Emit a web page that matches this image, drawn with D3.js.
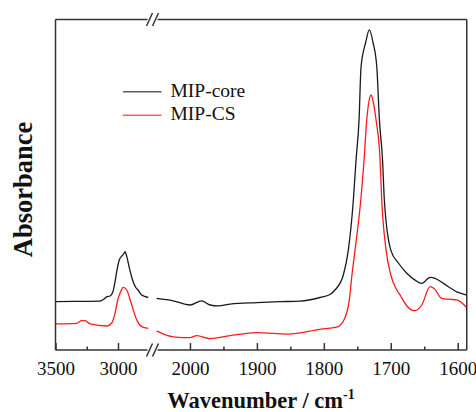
<!DOCTYPE html>
<html>
<head>
<meta charset="utf-8">
<script src="https://cdn.jsdelivr.net/npm/d3@7"></script>
<style>
  body { margin: 0; background: #fff; }
  svg { display: block; }
  svg text { font-family: 'Liberation Serif', 'Times New Roman', Times, serif; }
</style>
</head>
<body>
<div id="chart"></div>
<script>
// spectra, [wavenumber (cm-1), absorbance (a.u.)]
const coreLeft = [
  [3500, 0.161], [3344, 0.162], [3144, 0.163], [3112, 0.170], [3088, 0.178],
  [3064, 0.180], [3040, 0.195], [3026, 0.222], [3010, 0.262], [2990, 0.300],
  [2970, 0.313], [2955, 0.320], [2944, 0.328], [2930, 0.312], [2910, 0.275],
  [2885, 0.235], [2860, 0.210], [2840, 0.200], [2810, 0.183], [2758, 0.175]
];
const coreRight = [
  [2050, 0.172], [2025, 0.164], [2000, 0.150], [1982.5, 0.164], [1970, 0.150],
  [1957.7, 0.147], [1940, 0.153], [1900, 0.158], [1865.5, 0.161], [1835.6, 0.163],
  [1805.7, 0.175], [1790.7, 0.185], [1783.3, 0.200], [1770.9, 0.250], [1763.4, 0.333],
  [1755.9, 0.500], [1751.9, 0.633], [1747.4, 0.767], [1744.4, 0.944], [1737.5, 1.025],
  [1732, 1.067], [1726.5, 1.025], [1720.9, 0.944], [1717, 0.767], [1712.3, 0.633],
  [1709.6, 0.500], [1700, 0.333], [1688.6, 0.290], [1676.1, 0.256], [1663.7, 0.233],
  [1653.7, 0.222], [1641.3, 0.242], [1633.8, 0.239], [1621.4, 0.222], [1601.3, 0.194],
  [1586.5, 0.183]
];
const csLeft = [
  [3500, 0.087], [3330, 0.089], [3290, 0.098], [3264, 0.098], [3224, 0.087],
  [3090, 0.080], [3050, 0.090], [3024, 0.122], [3000, 0.170], [2984, 0.189],
  [2958, 0.209], [2930, 0.200], [2890, 0.150], [2850, 0.100], [2810, 0.078],
  [2758, 0.072]
];
const csRight = [
  [2050, 0.064], [2025, 0.044], [2000, 0.041], [1990, 0.048], [1970, 0.038],
  [1940, 0.048], [1900, 0.058], [1853, 0.053], [1805.7, 0.069], [1780.7, 0.076],
  [1770, 0.100], [1761.9, 0.167], [1758, 0.250], [1753.4, 0.333], [1744.8, 0.500],
  [1739.9, 0.633], [1735.9, 0.767], [1732.5, 0.830], [1729.4, 0.850], [1726.5, 0.830],
  [1722, 0.767], [1716, 0.633], [1713.5, 0.500], [1707, 0.333], [1700, 0.250],
  [1691, 0.200], [1686, 0.183], [1677, 0.150], [1668.6, 0.133], [1663.7, 0.131],
  [1653.7, 0.150], [1641.3, 0.211], [1635.3, 0.205], [1623.8, 0.172], [1611.4, 0.169],
  [1601.3, 0.167], [1586.5, 0.141]
];

const seriesNames = ['MIP-core', 'MIP-CS'];
const seriesColors = ['#1a1a1a', '#ff1a1a'];

const leftMajor = [3500, 3000];
const leftMinor = [3250];
const rightMajor = [2000, 1900, 1800, 1700, 1600];
const rightMinor = [1950, 1850, 1750, 1650];

const width = 476, height = 412;
const plotTop = 19.5, plotBottom = 350;
const plotLeft = 55.5, plotRight = 466.75;

const svg = d3.select('#chart').append('svg')
  .attr('width', width)
  .attr('height', height);

// broken x axis: two linear pieces
const xLeft = d3.scaleLinear().domain([3500, 2760]).range([plotLeft, 148]);
const xRight = d3.scaleLinear().domain([2050, 1586.5]).range([156.5, plotRight]);
const y = d3.scaleLinear().domain([0, 1.1]).range([plotBottom, 20]);

// spectra
const pieces = [
  [coreLeft, xLeft, 0], [coreRight, xRight, 0],
  [csLeft, xLeft, 1], [csRight, xRight, 1]
];
pieces.forEach(function (p) {
  const line = d3.line()
    .x(function (d) { return p[1](d[0]); })
    .y(function (d) { return y(d[1]); })
    .curve(d3.curveMonotoneX);
  svg.append('path')
    .datum(p[0])
    .attr('d', line)
    .attr('fill', 'none')
    .attr('stroke', seriesColors[p[2]])
    .attr('stroke-width', 1.3);
});

// frame
const frameColor = '#333';
const frame = svg.append('g')
  .attr('stroke', frameColor)
  .attr('stroke-width', 1.5)
  .attr('fill', 'none');
frame.append('line').attr('x1', plotLeft).attr('x2', plotLeft).attr('y1', plotTop).attr('y2', plotBottom);
frame.append('line').attr('x1', plotRight).attr('x2', plotRight).attr('y1', plotTop).attr('y2', plotBottom);
[plotTop, plotBottom].forEach(function (yy) {
  frame.append('line').attr('x1', plotLeft).attr('x2', 147.5).attr('y1', yy).attr('y2', yy);
  frame.append('line').attr('x1', 157.5).attr('x2', plotRight).attr('y1', yy).attr('y2', yy);
  // break marks
  frame.append('line').attr('x1', 146.5).attr('y1', yy + 6.5).attr('x2', 152.5).attr('y2', yy - 6.5);
  frame.append('line').attr('x1', 152.5).attr('y1', yy + 6.5).attr('x2', 158.5).attr('y2', yy - 6.5);
});

// axes, ticks pointing inward
function drawAxis(scale, major, minor) {
  const gMaj = svg.append('g')
    .attr('transform', 'translate(0,' + plotBottom + ')')
    .call(d3.axisBottom(scale).tickValues(major).tickSize(-7).tickPadding(11.5)
      .tickFormat(d3.format('d')))
    .attr('font-family', null)
    .attr('font-size', null);
  gMaj.select('.domain').remove();
  gMaj.selectAll('line').attr('stroke', frameColor).attr('stroke-width', 1.5);
  gMaj.selectAll('text')
    .attr('fill', '#111')
    .style('font-size', '19px');

  const gMin = svg.append('g')
    .attr('transform', 'translate(0,' + plotBottom + ')')
    .call(d3.axisBottom(scale).tickValues(minor).tickSize(-3.5).tickFormat(''));
  gMin.select('.domain').remove();
  gMin.selectAll('line').attr('stroke', frameColor).attr('stroke-width', 1.5);
}
drawAxis(xLeft, leftMajor, leftMinor);
drawAxis(xRight, rightMajor, rightMinor);

// axis titles
const xTitle = svg.append('text')
  .attr('x', 261)
  .attr('y', 408)
  .attr('text-anchor', 'middle')
  .style('font-size', '22.5px')
  .style('font-weight', 'bold')
  .attr('fill', '#111');
xTitle.append('tspan').text('Wavenumber / cm');
xTitle.append('tspan').attr('dy', -9).style('font-size', '14px').text('-1');

svg.append('text')
  .attr('transform', 'translate(31.5,189.5) rotate(-90)')
  .attr('text-anchor', 'middle')
  .style('font-size', '26.5px')
  .style('font-weight', 'bold')
  .attr('fill', '#111')
  .text('Absorbance');

// legend
const legend = svg.append('g');
seriesNames.forEach(function (name, i) {
  const ly = 91.7 + i * 23.5;
  legend.append('line')
    .attr('x1', 123).attr('x2', 161.5)
    .attr('y1', ly).attr('y2', ly)
    .attr('stroke', seriesColors[i])
    .attr('stroke-width', 1.5)
    .attr('opacity', 0.7);
  legend.append('text')
    .attr('x', 170.5)
    .attr('y', ly + 5)
    .style('font-size', '19.5px')
    .attr('fill', '#111')
    .text(name);
});
</script>
</body>
</html>
